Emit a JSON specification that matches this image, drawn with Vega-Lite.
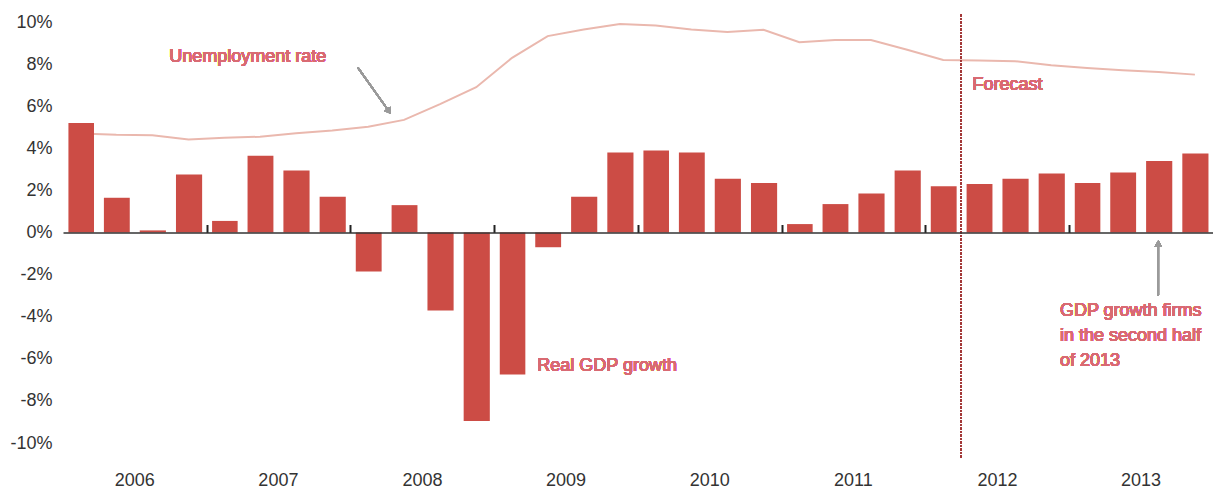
{
  "$schema": "https://vega.github.io/schema/vega-lite/v6.json",
  "width": 1150,
  "height": 421,
  "autosize": {"type": "none"},
  "padding": {"left": 63, "top": 22, "right": 0, "bottom": 50},
  "background": "white",
  "config": {"view": {"stroke": null}, "font": "Liberation Sans"},
  "data": {
    "values": [
      {"q": "2006-01-01", "gdp": 5.2, "unemp": 4.7},
      {"q": "2006-04-01", "gdp": 1.65, "unemp": 4.64},
      {"q": "2006-07-01", "gdp": 0.1, "unemp": 4.62},
      {"q": "2006-10-01", "gdp": 2.75, "unemp": 4.42},
      {"q": "2007-01-01", "gdp": 0.55, "unemp": 4.5},
      {"q": "2007-04-01", "gdp": 3.65, "unemp": 4.55},
      {"q": "2007-07-01", "gdp": 2.95, "unemp": 4.72},
      {"q": "2007-10-01", "gdp": 1.7, "unemp": 4.85},
      {"q": "2008-01-01", "gdp": -1.85, "unemp": 5.02},
      {"q": "2008-04-01", "gdp": 1.3, "unemp": 5.35},
      {"q": "2008-07-01", "gdp": -3.7, "unemp": 6.1},
      {"q": "2008-10-01", "gdp": -8.95, "unemp": 6.9},
      {"q": "2009-01-01", "gdp": -6.75, "unemp": 8.3},
      {"q": "2009-04-01", "gdp": -0.7, "unemp": 9.33},
      {"q": "2009-07-01", "gdp": 1.7, "unemp": 9.64},
      {"q": "2009-10-01", "gdp": 3.8, "unemp": 9.91},
      {"q": "2010-01-01", "gdp": 3.9, "unemp": 9.83},
      {"q": "2010-04-01", "gdp": 3.8, "unemp": 9.64},
      {"q": "2010-07-01", "gdp": 2.55, "unemp": 9.53},
      {"q": "2010-10-01", "gdp": 2.35, "unemp": 9.63},
      {"q": "2011-01-01", "gdp": 0.4, "unemp": 9.04},
      {"q": "2011-04-01", "gdp": 1.35, "unemp": 9.14},
      {"q": "2011-07-01", "gdp": 1.85, "unemp": 9.14},
      {"q": "2011-10-01", "gdp": 2.95, "unemp": 8.68},
      {"q": "2012-01-01", "gdp": 2.2, "unemp": 8.2},
      {"q": "2012-04-01", "gdp": 2.3, "unemp": 8.17},
      {"q": "2012-07-01", "gdp": 2.55, "unemp": 8.14},
      {"q": "2012-10-01", "gdp": 2.8, "unemp": 7.95},
      {"q": "2013-01-01", "gdp": 2.35, "unemp": 7.82},
      {"q": "2013-04-01", "gdp": 2.85, "unemp": 7.71},
      {"q": "2013-07-01", "gdp": 3.4, "unemp": 7.62},
      {"q": "2013-10-01", "gdp": 3.75, "unemp": 7.5}
    ]
  },
  "resolve": {"axis": {"x": "independent"}},
  "layer": [
    {
      "mark": {"type": "line", "color": "#eab8ae", "strokeWidth": 2},
      "encoding": {
        "x": {
          "field": "q", "timeUnit": "utcyearquarter", "type": "temporal", "bandPosition": 0.5,
          "scale": {"type": "utc", "domain": [{"year": 2006, "month": 1, "date": 1, "utc": true}, {"year": 2014, "month": 1, "date": 1, "utc": true}]},
          "axis": {
            "values": [
              {"year": 2006, "month": 7, "date": 1, "utc": true},
              {"year": 2007, "month": 7, "date": 1, "utc": true},
              {"year": 2008, "month": 7, "date": 1, "utc": true},
              {"year": 2009, "month": 7, "date": 1, "utc": true},
              {"year": 2010, "month": 7, "date": 1, "utc": true},
              {"year": 2011, "month": 7, "date": 1, "utc": true},
              {"year": 2012, "month": 7, "date": 1, "utc": true},
              {"year": 2013, "month": 7, "date": 1, "utc": true}
            ],
            "format": "%Y", "domain": false, "ticks": false, "grid": false,
            "labelPadding": 28, "labelFontSize": 18, "labelColor": "#333333", "title": null
          }
        },
        "y": {
          "field": "unemp", "type": "quantitative", "scale": {"domain": [-10, 10], "nice": false, "zero": false},
          "axis": {
            "values": [-10, -8, -6, -4, -2, 0, 2, 4, 6, 8, 10],
            "labelExpr": "datum.value + '%'",
            "domain": false, "ticks": false, "grid": false, "labelPadding": 11,
            "labelFontSize": 18, "labelColor": "#333333", "title": null
          }
        }
      }
    },
    {
      "mark": {"type": "bar", "color": "#cc4c45", "width": {"band": 0.75}},
      "encoding": {
        "x": {
          "field": "q", "timeUnit": "utcyearquarter", "type": "temporal",
          "axis": {
            "values": [
              {"year": 2007, "month": 1, "date": 1, "utc": true},
              {"year": 2008, "month": 1, "date": 1, "utc": true},
              {"year": 2009, "month": 1, "date": 1, "utc": true},
              {"year": 2010, "month": 1, "date": 1, "utc": true},
              {"year": 2011, "month": 1, "date": 1, "utc": true},
              {"year": 2012, "month": 1, "date": 1, "utc": true},
              {"year": 2013, "month": 1, "date": 1, "utc": true}
            ],
            "labels": false, "grid": false, "offset": -210.5, "tickSize": 8, "tickWidth": 2,
            "tickColor": "#222222", "domainColor": "#333333", "domainWidth": 1.5, "title": null, "zindex": 1
          }
        },
        "y": {
          "field": "gdp", "type": "quantitative",
          "axis": {
            "values": [-10, -8, -6, -4, -2, 0, 2, 4, 6, 8, 10],
            "labelExpr": "datum.value + '%'",
            "domain": false, "ticks": false, "grid": false, "labelPadding": 11,
            "labelFontSize": 18, "labelColor": "#333333", "title": null
          }
        }
      }
    },
    {
      "mark": {"type": "rule", "color": "#a33a3a", "strokeWidth": 1.5, "strokeDash": [1.5, 2]},
      "encoding": {
        "x": {"datum": {"year": 2012, "month": 4, "date": 1, "utc": true}, "type": "temporal", "axis": null},
        "y": {"datum": 10.35, "type": "quantitative"},
        "y2": {"datum": -10.7}
      }
    },
    {
      "mark": {"type": "rule", "color": "#9a9a9a", "strokeWidth": 1.5},
      "encoding": {
        "x": {"datum": {"year": 2008, "month": 1, "date": 20, "utc": true}, "type": "temporal", "axis": null},
        "y": {"datum": 7.84, "type": "quantitative"},
        "x2": {"datum": {"year": 2008, "month": 4, "date": 7, "utc": true}},
        "y2": {"datum": 5.79}
      }
    },
    {
      "mark": {"type": "point", "shape": "triangle", "filled": true, "color": "#9a9a9a", "size": 55, "angle": 144, "opacity": 1},
      "encoding": {
        "x": {"datum": {"year": 2008, "month": 4, "date": 7, "utc": true}, "type": "temporal", "axis": null},
        "y": {"datum": 5.79, "type": "quantitative"}
      }
    },
    {
      "mark": {"type": "rule", "color": "#9a9a9a", "strokeWidth": 1.5},
      "encoding": {
        "x": {"datum": {"year": 2013, "month": 8, "date": 15, "utc": true}, "type": "temporal", "axis": null},
        "y": {"datum": -3.0, "type": "quantitative"},
        "y2": {"datum": -0.6}
      }
    },
    {
      "mark": {"type": "point", "shape": "triangle", "filled": true, "color": "#9a9a9a", "size": 55, "angle": 0, "opacity": 1},
      "encoding": {
        "x": {"datum": {"year": 2013, "month": 8, "date": 15, "utc": true}, "type": "temporal", "axis": null},
        "y": {"datum": -0.57, "type": "quantitative"}
      }
    },
    {
      "mark": {"type": "text", "text": "Unemployment rate", "align": "left", "baseline": "middle", "fontSize": 18, "fontWeight": "normal", "color": "#d96a72"},
      "encoding": {
        "x": {"datum": {"year": 2006, "month": 9, "date": 28, "utc": true}, "type": "temporal", "axis": null},
        "y": {"datum": 8.36, "type": "quantitative"}
      }
    },
    {
      "mark": {"type": "text", "text": "Forecast", "align": "left", "baseline": "middle", "fontSize": 18, "fontWeight": "normal", "color": "#d96a72"},
      "encoding": {
        "x": {"datum": {"year": 2012, "month": 4, "date": 30, "utc": true}, "type": "temporal", "axis": null},
        "y": {"datum": 7.03, "type": "quantitative"}
      }
    },
    {
      "mark": {"type": "text", "text": "Real GDP growth", "align": "left", "baseline": "middle", "fontSize": 18, "fontWeight": "normal", "color": "#d96a72"},
      "encoding": {
        "x": {"datum": {"year": 2009, "month": 4, "date": 20, "utc": true}, "type": "temporal", "axis": null},
        "y": {"datum": -6.32, "type": "quantitative"}
      }
    },
    {
      "mark": {"type": "text", "text": ["GDP growth firms", "in the second half", "of 2013"], "align": "left", "baseline": "middle", "lineHeight": 25, "fontSize": 18, "fontWeight": "normal", "color": "#d96a72"},
      "encoding": {
        "x": {"datum": {"year": 2012, "month": 12, "date": 8, "utc": true}, "type": "temporal", "axis": null},
        "y": {"datum": -3.75, "type": "quantitative"}
      }
    }
  ]
}
